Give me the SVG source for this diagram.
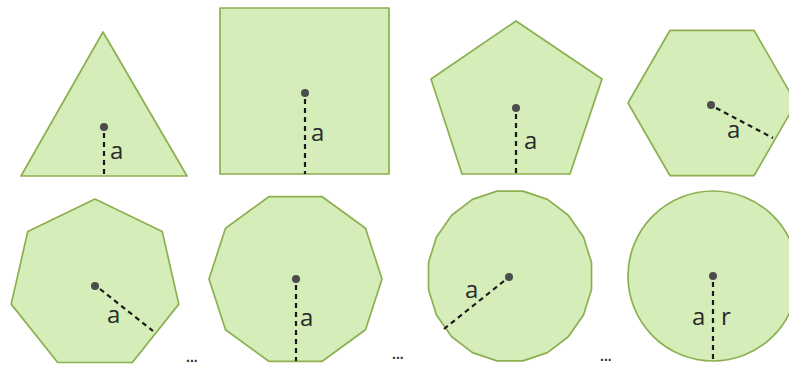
<svg xmlns="http://www.w3.org/2000/svg" width="789" height="367" viewBox="0 0 789 367">
<style>
.shape{fill:#d4edb9;stroke:#8caf50;stroke-width:1.7;stroke-linejoin:round}
.dot{fill:#4d4d4d}
.dash{stroke:#1a1a1a;stroke-width:2.2;stroke-dasharray:5 4;fill:none}
.lbl{font-family:"Open Sans","Liberation Sans",sans-serif;font-size:24px;fill:#2a2a2a}
.ell{font-family:"Liberation Sans",sans-serif;font-size:14px;font-weight:bold;fill:#333}
</style>
<rect width="789" height="367" fill="#ffffff"/>
<g id="triangle">
<polygon class="shape" points="103,32 187,176 21,176"/>
<circle class="dot" cx="104" cy="127" r="4"/>
<line class="dash" x1="104" y1="133" x2="104" y2="176"/>
<text class="lbl" x="110" y="159">a</text>
</g>
<g id="square">
<rect class="shape" x="220" y="8" width="169" height="166"/>
<circle class="dot" cx="305" cy="93" r="4"/>
<line class="dash" x1="305" y1="99" x2="305" y2="174"/>
<text class="lbl" x="311" y="141">a</text>
</g>
<g id="pentagon">
<polygon class="shape" points="516,21 602,79 570,174 462,174 431,79"/>
<circle class="dot" cx="516" cy="108" r="4"/>
<line class="dash" x1="516" y1="114" x2="516" y2="174"/>
<text class="lbl" x="524" y="149">a</text>
</g>
<g id="hexagon">
<polygon class="shape" points="796,103 754,175.7 670,175.7 628,103 670,30.3 754,30.3"/>
<circle class="dot" cx="711" cy="105" r="4"/>
<line class="dash" x1="716" y1="108" x2="773" y2="138"/>
<text class="lbl" x="727" y="138">a</text>
</g>
<g id="heptagon">
<polygon class="shape" points="95,199 162.2,231.4 178.8,304.1 132.3,362.5 57.7,362.5 11.2,304.1 27.8,231.4"/>
<circle class="dot" cx="95" cy="286" r="4"/>
<line class="dash" x1="100" y1="289" x2="153" y2="331"/>
<text class="lbl" x="107" y="323">a</text>
</g>
<g id="decagon">
<polygon class="shape" points="382,279 365.5,329.8 322.2,361.3 268.8,361.3 225.5,329.8 209,279 225.5,228.2 268.8,196.7 322.2,196.7 365.5,228.2"/>
<circle class="dot" cx="296" cy="279" r="4"/>
<line class="dash" x1="296" y1="285" x2="296" y2="361"/>
<text class="lbl" x="300" y="326">a</text>
</g>
<g id="icosagon">
<polygon class="shape" points="591.5,289.5 583.5,315 568.3,336.8 547.5,352.6 522.9,360.9 497.1,360.9 472.5,352.6 451.7,336.8 436.5,315 428.5,289.5 428.5,262.5 436.5,237 451.7,215.2 472.5,199.4 497.1,191.1 522.9,191.1 547.5,199.4 568.3,215.2 583.5,237 591.5,262.5"/>
<circle class="dot" cx="509" cy="277" r="4"/>
<line class="dash" x1="504" y1="281" x2="444" y2="329"/>
<text class="lbl" x="465" y="298">a</text>
</g>
<g id="circle">
<circle class="shape" cx="713" cy="276" r="85"/>
<circle class="dot" cx="713" cy="276" r="4"/>
<line class="dash" x1="713" y1="282" x2="713" y2="361"/>
<text class="lbl" x="692" y="325">a</text>
<text class="lbl" x="721" y="325">r</text>
</g>
<g id="ellipses">
<text class="ell" x="186" y="362">...</text>
<text class="ell" x="392" y="359">...</text>
<text class="ell" x="600" y="361">...</text>
</g>
</svg>
